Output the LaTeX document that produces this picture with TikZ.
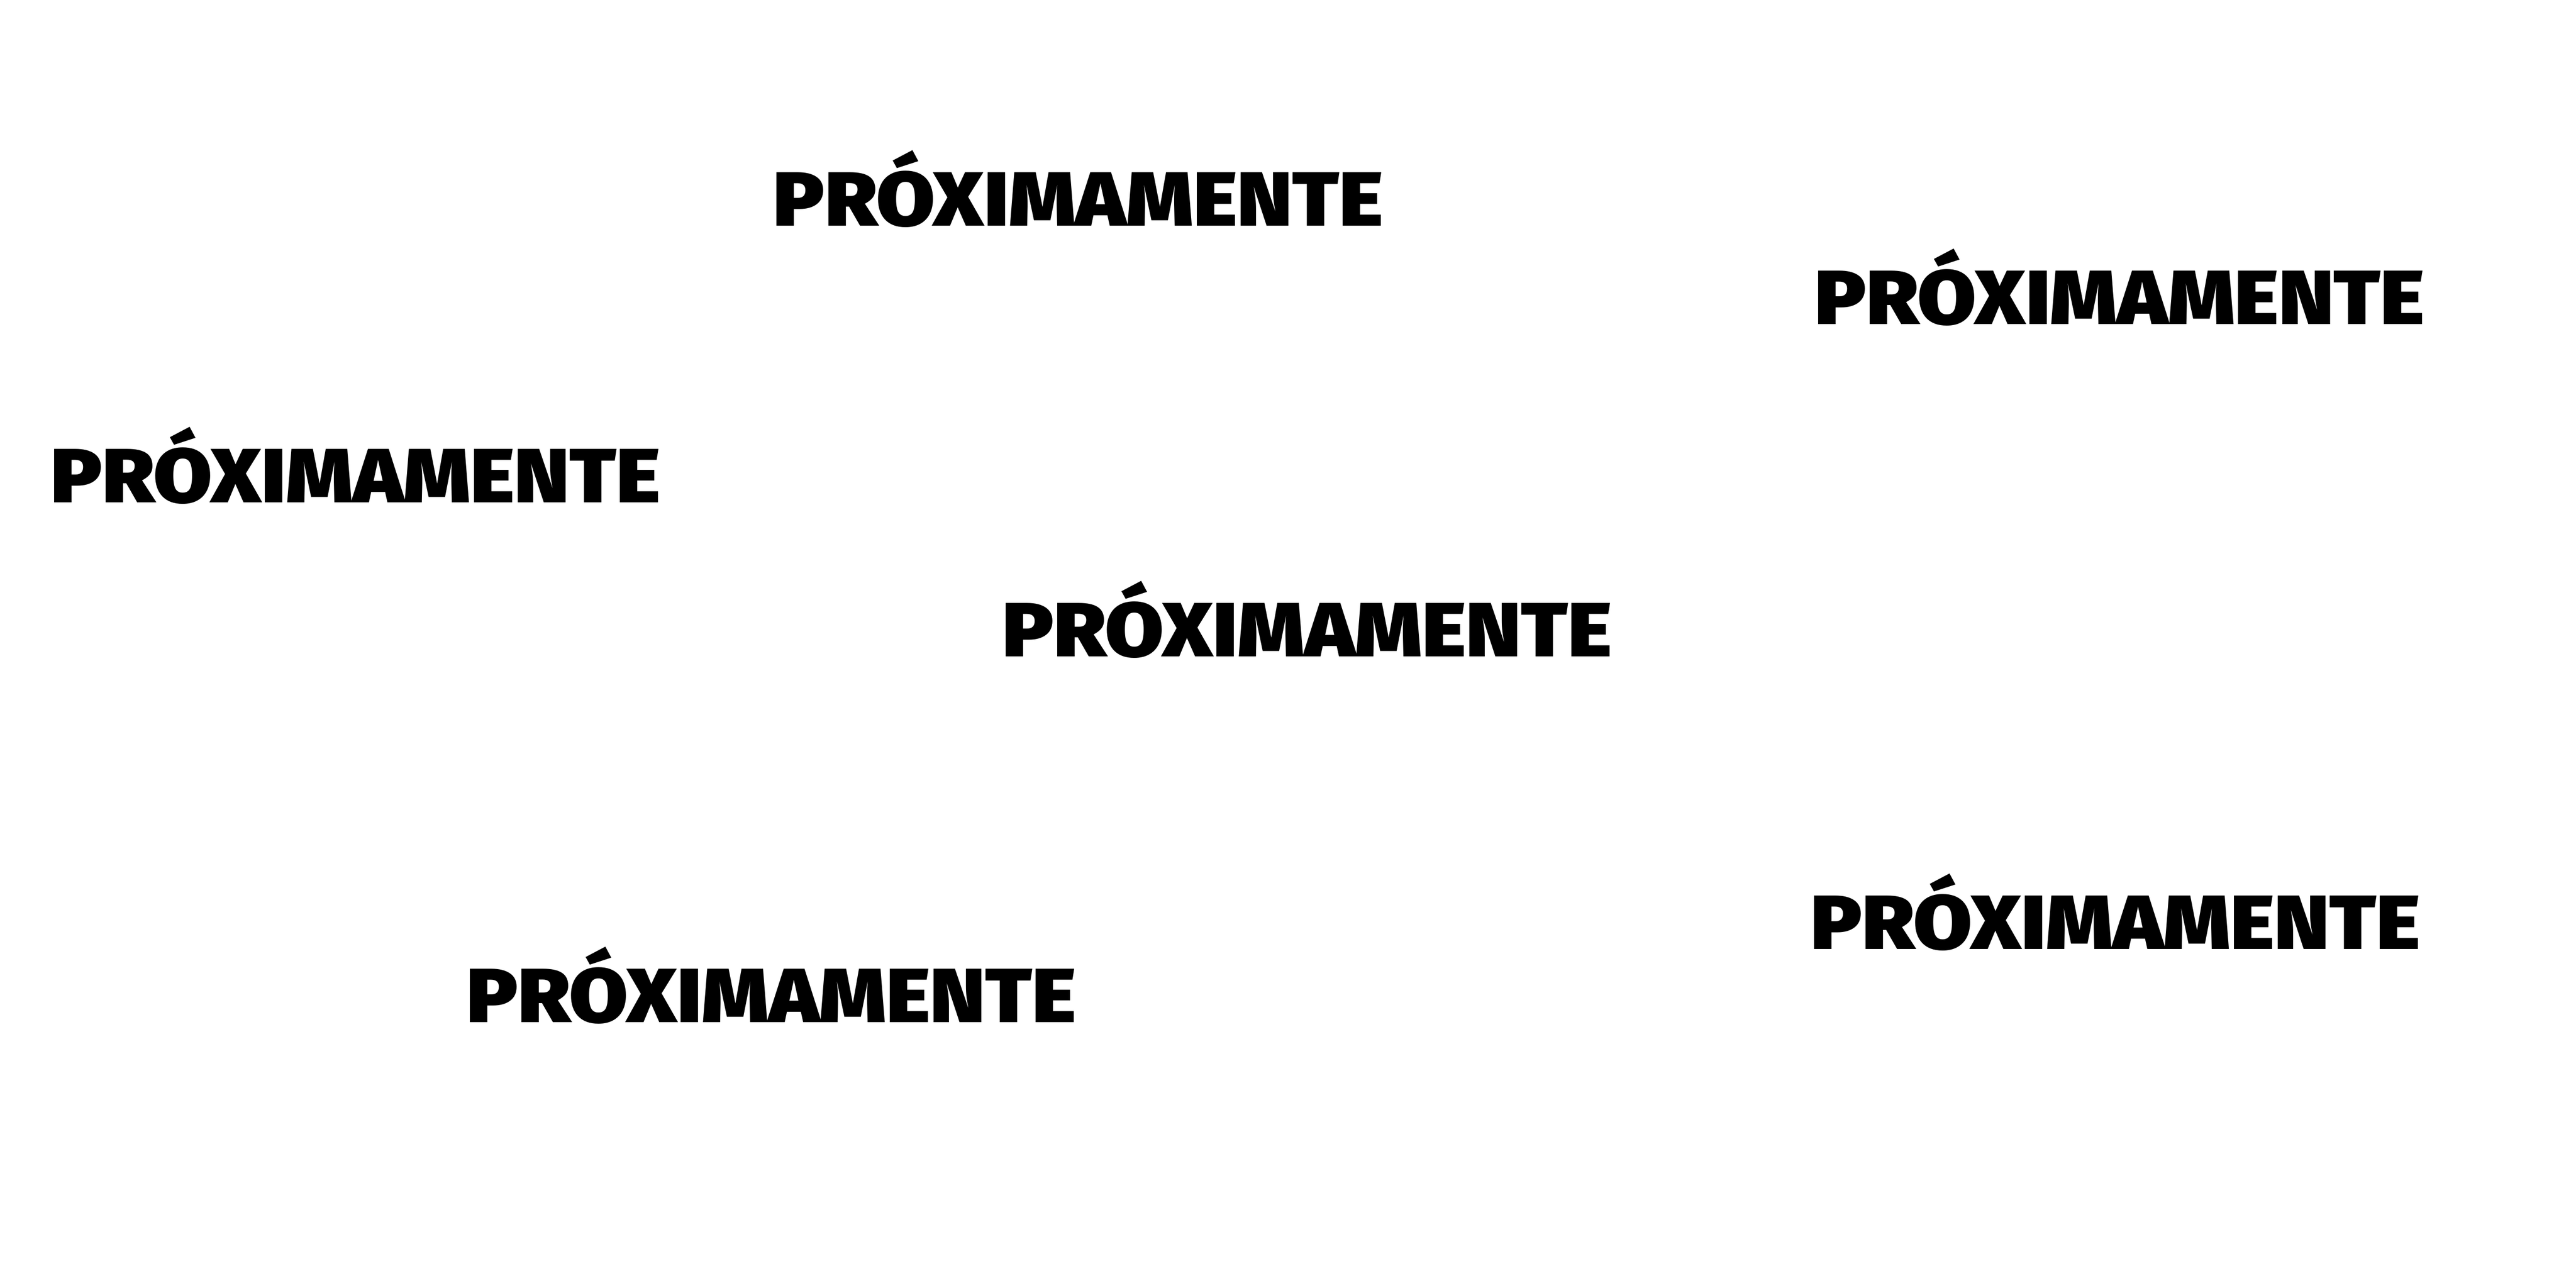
\documentclass[tikz,border=0pt]{standalone}
\usepackage{fontspec}
\setmainfont{Fira Sans}[BoldFont={Fira Sans Black}]
\tikzset{soon/.style={anchor=base west, inner sep=0pt, outer sep=0pt, text=black}}
\newcommand{\soontext}{\resizebox{14.2cm}{1.76cm}{\bfseries PRÓXIMAMENTE}}
\begin{document}
\begin{tikzpicture}
\useasboundingbox (0,0) rectangle (60,-30);
\fill[white] (0,0) rectangle (60,-30);
\node[soon] (t1) at (18.01,-5.26) {\soontext};
\node[soon] (t2) at (42.27,-7.56) {\soontext};
\node[soon] (t3) at (1.18,-11.70) {\soontext};
\node[soon] (t4) at (23.34,-15.29) {\soontext};
\node[soon] (t5) at (42.17,-22.11) {\soontext};
\node[soon] (t6) at (10.86,-23.81) {\soontext};
\end{tikzpicture}
\end{document}
